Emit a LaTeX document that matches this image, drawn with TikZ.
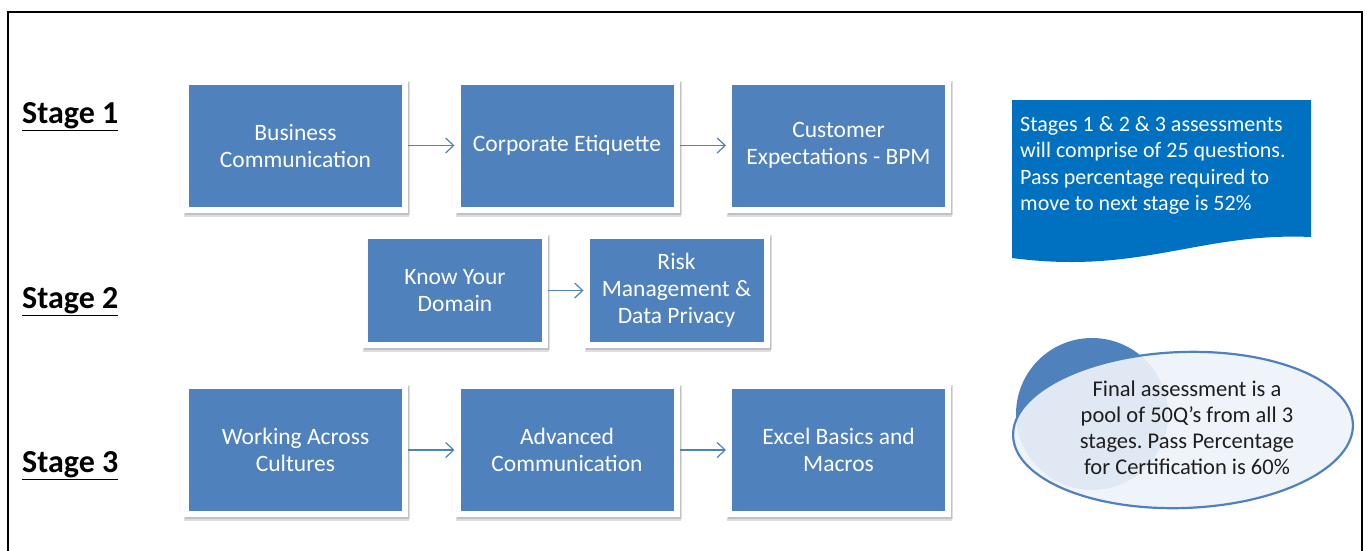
\documentclass[tikz,border=0pt]{standalone}
\usepackage{fontspec}
\setmainfont{Carlito}
\frenchspacing
\usetikzlibrary{arrows.meta,positioning}
\definecolor{boxblue}{RGB}{79,129,189}
\definecolor{callblue}{RGB}{0,112,192}
\definecolor{palefill}{RGB}{170,195,230}
\definecolor{txtdark}{RGB}{30,30,30}
\tikzset{
  stagebox/.style={draw=white, line width=6pt, fill=boxblue, text=white,
    minimum width=219pt, minimum height=128pt, align=center, inner sep=0pt,
    font=\fontsize{23.5}{27}\selectfont},
  smallbox/.style={stagebox, minimum width=180pt, minimum height=109pt},
  flow/.style={draw=boxblue, line width=1.2pt, -{Straight Barb[length=8pt,width=15pt,line width=1.2pt]}},
  stagelabel/.style={font=\bfseries\fontsize{32}{36}\selectfont, anchor=west, inner sep=0pt},
  shadowrect/.style={fill=black, opacity=0.13},
}
\newcommand{\ulstage}[1]{\underline{#1}}
\begin{document}
\begin{tikzpicture}[x=1pt,y=-1pt]
\useasboundingbox (0,0) rectangle (1370,550);
% frame
\draw[line width=2pt] (8,12) -- (1362,12);
\draw[line width=2pt] (8,11) -- (8,560);
\draw[line width=2pt] (1362,11) -- (1362,560);

% shadows
\foreach \cx/\cy/\w/\h in {295.5/145.5/225/134, 567/145.5/225/134, 838.5/145.5/225/134,
  455/290.5/186/115, 676.5/290.5/186/115,
  295.5/450/225/134, 567/450/225/134, 838.5/450/225/134}{
  \fill[shadowrect] (\cx-\w/2+1,\cy-\h/2+4) rectangle (\cx+\w/2+1,\cy+\h/2+4);
  \fill[shadowrect] (\cx-\w/2+2,\cy-\h/2+2) rectangle (\cx+\w/2+2,\cy+\h/2+2);
}

% stage labels
\node[stagelabel] (s1) at (22,117) {\ulstage{Stage 1}};
\node[stagelabel] (s2) at (22,302) {\ulstage{Stage 2}};
\node[stagelabel] (s3) at (22,466) {\ulstage{Stage 3}};

% row 1
\node[stagebox] (b1) at (295.5,145.5) {Business\\Communication};
\node[stagebox] (b2) at (567,145.5) {Corporate Etiquette};
\node[stagebox] (b3) at (838.5,145.5) {Customer\\Expectations - BPM};
% row 2
\node[smallbox] (k1) at (455,290.5) {Know Your\\Domain};
\node[smallbox] (k2) at (676.5,290.5) {Risk\\Management \&\\Data Privacy};
% row 3
\node[stagebox] (c1) at (295.5,450) {Working Across\\Cultures};
\node[stagebox] (c2) at (567,450) {Advanced\\Communication};
\node[stagebox] (c3) at (838.5,450) {Excel Basics and\\Macros};

\draw[flow] (b1.east) -- (b2.west);
\draw[flow] (b2.east) -- (b3.west);
\draw[flow] (k1.east) -- (k2.west);
\draw[flow] (c1.east) -- (c2.west);
\draw[flow] (c2.east) -- (c3.west);

% callout with wavy bottom
\fill[callblue] (1012,100) -- (1311,100) -- (1311,237)
  .. controls (1200,232) and (1140,275) .. (1012,258) -- cycle;
\node[anchor=north west, text=white, align=left, inner sep=0pt,
  font=\fontsize{22}{26.5}\selectfont] (note1) at (1020,116)
  {Stages 1 \& 2 \& 3 assessments\\will comprise of 25 questions.\\Pass percentage required to\\move to next stage is 52\%};

% ellipse with circle behind
\begin{scope}[rotate around={2:(1183,430)}]
\fill[palefill] (1183,430) ellipse [x radius=170, y radius=78];
\end{scope}
\fill[boxblue] (1092,414) circle [radius=76];
\begin{scope}[rotate around={2:(1183,430)}]
\fill[white, fill opacity=0.82] (1183,430) ellipse [x radius=170, y radius=78];
\draw[boxblue, line width=2.2pt] (1183,430) ellipse [x radius=170, y radius=78];
\end{scope}
\node[text=txtdark, align=center, inner sep=0pt,
  font=\fontsize{22.5}{26}\selectfont] (note2) at (1187,428)
  {Final assessment is a\\pool of 50Q’s from all 3\\stages. Pass Percentage\\for Certification is 60\%};
\end{tikzpicture}
\end{document}
